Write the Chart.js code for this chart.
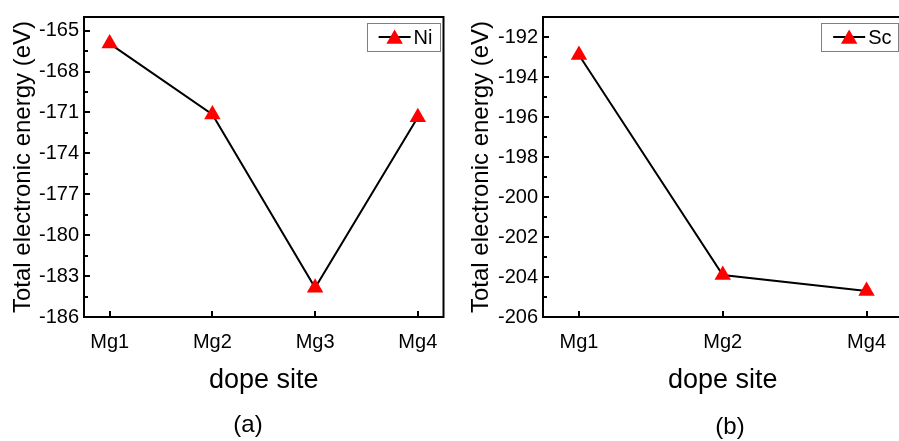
<!DOCTYPE html>
<html>
<head>
<meta charset="utf-8">
<script src="https://cdn.jsdelivr.net/npm/chart.js@4"></script>
<style>
  html, body { margin: 0; padding: 0; background: #fff; overflow: hidden; }
  #wrap { position: relative; width: 899px; height: 441px; overflow: hidden; }
  canvas { position: absolute; top: 0; }
  .cap { position: absolute; font: 24px Arial, "Liberation Sans", sans-serif; color: #000; transform: translate(-50%, -50%); }
</style>
</head>
<body>
<div id="wrap">
  <canvas id="chartA" width="453" height="441" style="left:0"></canvas>
  <canvas id="chartB" width="454" height="441" style="left:458px"></canvas>
  <div class="cap" style="left:248px; top:424px">(a)</div>
  <div class="cap" style="left:730px; top:426px">(b)</div>
</div>
<script>
// panel (a): Ni doped
const sitesA = ['Mg1', 'Mg2', 'Mg3', 'Mg4'];
const energyNi = [-165.95, -171.15, -183.85, -171.35];
const yTicksA = [-186, -183, -180, -177, -174, -171, -168, -165];
const yRangeA = [-186, -164];

// panel (b): Sc doped
const sitesB = ['Mg1', 'Mg2', 'Mg4'];
const energySc = [-192.9, -203.9, -204.7];
const yTicksB = [-206, -204, -202, -200, -198, -196, -194, -192];
const yRangeB = [-206, -191];

const FONT = 'Arial, "Liberation Sans", sans-serif';

// frame, inward ticks and the boxed legend like the Origin plot
const framePlugin = {
  id: 'frame',
  afterDraw(chart, args, opts) {
    const ctx = chart.ctx;
    const a = chart.chartArea;
    const xs = chart.scales.x, ys = chart.scales.y;
    ctx.save();
    ctx.strokeStyle = '#000';
    ctx.lineWidth = 2;
    ctx.beginPath();
    // minor ticks
    for (let v = opts.yTicks[0]; v <= ys.max + 1e-9; v += opts.minor) {
      const py = Math.round(ys.getPixelForValue(v));
      ctx.moveTo(a.left, py); ctx.lineTo(a.left + 4, py);
    }
    ys.ticks.forEach(t => {
      const py = Math.round(ys.getPixelForValue(t.value));
      ctx.moveTo(a.left, py); ctx.lineTo(a.left + 6, py);
    });
    xs.ticks.forEach(t => {
      const px = Math.round(xs.getPixelForValue(t.value));
      ctx.moveTo(px, a.bottom); ctx.lineTo(px, a.bottom - 6);
    });
    ctx.stroke();
    ctx.strokeRect(a.left, a.top, a.right - a.left, a.bottom - a.top);

    // legend
    const ds = chart.data.datasets[0];
    ctx.font = '20px ' + FONT;
    const tw = ctx.measureText(ds.label).width;
    const w = 12 + 32 + 3 + tw + 7, h = 28;
    const right = a.right - 4, top = a.top + 6;
    const left = right - w;
    ctx.lineWidth = 1;
    ctx.strokeStyle = '#808080';
    ctx.strokeRect(Math.round(left) + 0.5, top + 0.5, Math.round(w), h);
    const cy = top + h / 2;
    ctx.strokeStyle = '#000';
    ctx.lineWidth = 2;
    ctx.beginPath();
    ctx.moveTo(left + 12, cy); ctx.lineTo(left + 44, cy);
    ctx.stroke();
    const cx = left + 28, r = 9.5, ty = cy + 2;
    ctx.fillStyle = '#ff0000';
    ctx.beginPath();
    for (let k = 0; k < 3; k++) {
      const ang = k * 2 * Math.PI / 3;
      const px = cx + Math.sin(ang) * r, py = ty - Math.cos(ang) * r;
      k ? ctx.lineTo(px, py) : ctx.moveTo(px, py);
    }
    ctx.closePath();
    ctx.fill();
    ctx.fillStyle = '#000';
    ctx.textBaseline = 'middle';
    ctx.textAlign = 'left';
    ctx.fillText(ds.label, left + 47, cy + 1);
    ctx.restore();
  }
};

function makeChart(id, sites, values, label, yTicks, yRange, minor, yWidth) {
  return new Chart(document.getElementById(id), {
    type: 'line',
    data: {
      datasets: [{
        label: label,
        data: sites.map((s, i) => ({ x: i, y: values[i] })),
        borderColor: '#000',
        borderWidth: 2,
        pointStyle: 'triangle',
        pointRadius: 9.5,
        pointBackgroundColor: '#ff0000',
        pointBorderWidth: 0,
        tension: 0
      }]
    },
    options: {
      responsive: false,
      maintainAspectRatio: false,
      animation: false,
      layout: { padding: { top: 14, right: 2, left: 0, bottom: 0 } },
      plugins: {
        legend: { display: false },
        tooltip: { enabled: false },
        frame: { yTicks: yTicks, minor: minor }
      },
      scales: {
        x: {
          type: 'linear',
          min: -0.25,
          max: sites.length - 0.75,
          afterBuildTicks: s => { s.ticks = sites.map((_, i) => ({ value: i })); },
          afterFit: s => { s.height = 124; },
          ticks: {
            callback: v => sites[v],
            font: { family: FONT, size: 20 },
            color: '#000',
            padding: 13,
            maxRotation: 0,
            autoSkip: false
          },
          grid: { display: false, drawTicks: false },
          border: { display: false },
          title: {
            display: true,
            text: 'dope site',
            font: { family: FONT, size: 27 },
            color: '#000',
            padding: { top: 0, bottom: 44 }
          }
        },
        y: {
          min: yRange[0],
          max: yRange[1],
          afterBuildTicks: s => { s.ticks = yTicks.map(v => ({ value: v })); },
          afterFit: s => { s.width = yWidth; },
          ticks: {
            font: { family: FONT, size: 20 },
            color: '#000',
            padding: 5
          },
          grid: { display: false, drawTicks: false },
          border: { display: false },
          title: {
            display: true,
            text: 'Total electronic energy (eV)',
            font: { family: FONT, size: 24 },
            color: '#000',
            padding: { top: 9, bottom: 0 }
          }
        }
      }
    },
    plugins: [framePlugin]
  });
}

makeChart('chartA', sitesA, energyNi, 'Ni', yTicksA, yRangeA, 1.5, 84);
makeChart('chartB', sitesB, energySc, 'Sc', yTicksB, yRangeB, 1, 85);
</script>
</body>
</html>
